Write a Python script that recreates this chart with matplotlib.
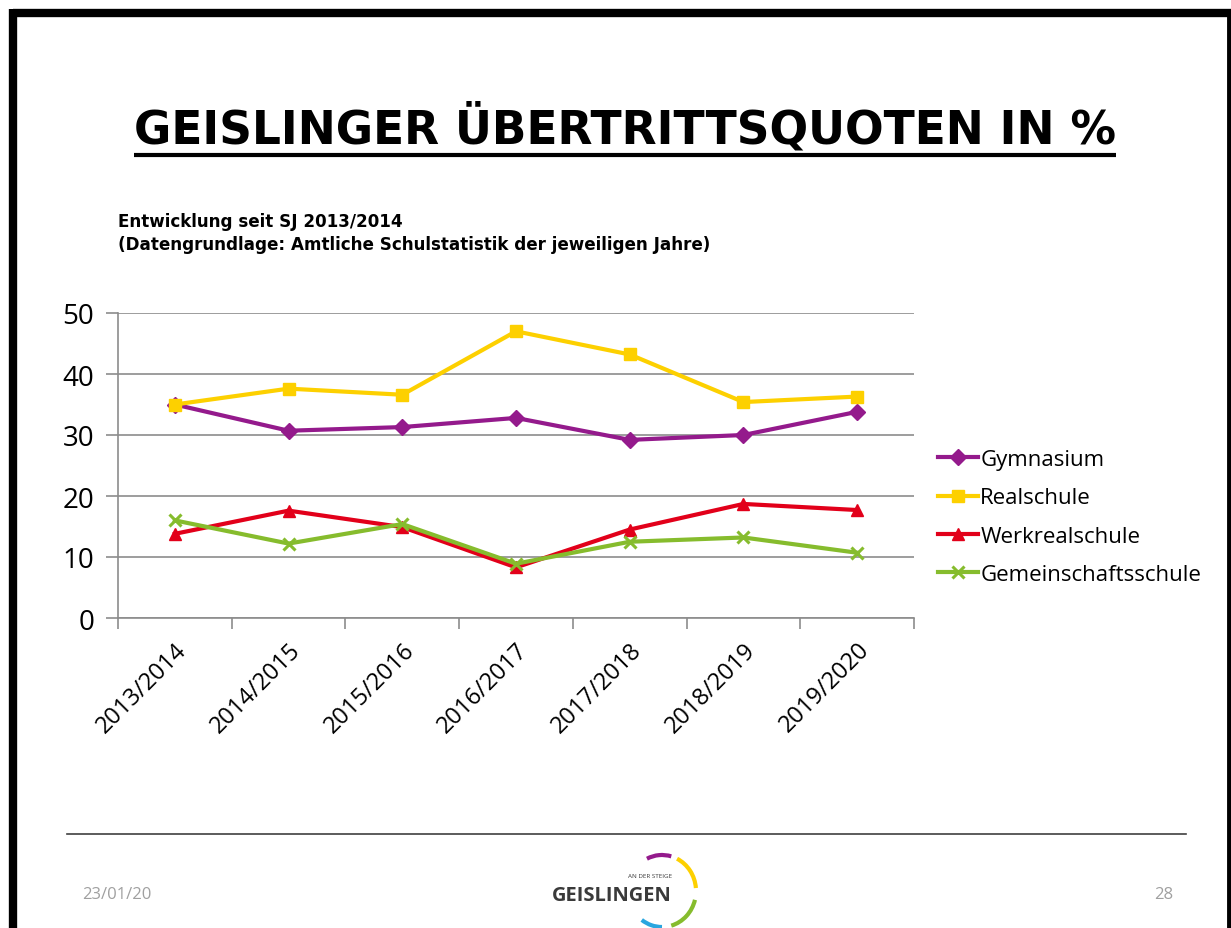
import matplotlib
matplotlib.use("Agg")
import matplotlib.pyplot as plt
from matplotlib.patches import Arc

# Daten
jahre = ["2013/2014", "2014/2015", "2015/2016", "2016/2017",
         "2017/2018", "2018/2019", "2019/2020"]
gymnasium = [35.0, 30.7, 31.3, 32.8, 29.2, 30.0, 33.8]
realschule = [35.0, 37.6, 36.6, 47.0, 43.2, 35.4, 36.3]
werkrealschule = [13.8, 17.6, 14.9, 8.3, 14.5, 18.7, 17.7]
gemeinschaftsschule = [16.0, 12.2, 15.4, 8.9, 12.5, 13.2, 10.7]

serien = [
    ("Gymnasium", gymnasium, "#941a8c", "D", 8),
    ("Realschule", realschule, "#fdd000", "s", 9),
    ("Werkrealschule", werkrealschule, "#e2001a", "^", 9),
    ("Gemeinschaftsschule", gemeinschaftsschule, "#86bc2d", "x", 8),
]

W, H = 1231, 929
fig = plt.figure(figsize=(W / 100, H / 100), dpi=100)

# Hintergrund / Folienrahmen in Pixelkoordinaten
deko = fig.add_axes([0, 0, 1, 1], zorder=0)
deko.set_xlim(0, W)
deko.set_ylim(H, 0)
deko.axis("off")
deko.plot([13, W], [13.5, 13.5], color="black", lw=6, solid_capstyle="butt")
deko.plot([13, 13], [10, H], color="black", lw=6, solid_capstyle="butt")
deko.plot([1229, 1229], [10, H], color="black", lw=3.5, solid_capstyle="butt")

# Fußzeile
deko.plot([67, 1186], [835, 835], color="#404040", lw=1.2)
deko.text(82, 895, "23/01/20", fontsize=12, color="#a0a0a0",
          family="Open Sans", va="center", ha="left")
deko.text(1173, 895, "28", fontsize=12, color="#a0a0a0",
          family="Open Sans", va="center", ha="right")
deko.text(612, 896, "GEISLINGEN", fontsize=14.5, fontweight="bold",
          color="#3a3a3a", family="Open Sans", va="center", ha="center")
deko.text(672, 877, "AN DER STEIGE", fontsize=4.5, color="#3a3a3a",
          family="Open Sans", va="center", ha="right")
for t1, t2, c in [(75, 115, "#941a8c"), (5, 65, "#fdd000"),
                  (-75, -15, "#86bc2d"), (-125, -90, "#2aa6df")]:
    deko.add_patch(Arc((662, 892), 68, 72, theta1=-t2, theta2=-t1,
                       color=c, lw=3))

# Titel
titel = fig.text(0.508, 1 - 129 / H, "GEISLINGER ÜBERTRITTSQUOTEN IN %",
                 fontsize=32.8, fontweight="bold", family="DejaVu Sans",
                 ha="center", va="center")
fig.text(118 / W, 1 - 222 / H, "Entwicklung seit SJ 2013/2014",
         fontsize=12.1, fontweight="bold", family="DejaVu Sans",
         ha="left", va="center")
fig.text(118 / W, 1 - 245 / H,
         "(Datengrundlage: Amtliche Schulstatistik der jeweiligen Jahre)",
         fontsize=12.1, fontweight="bold", family="DejaVu Sans",
         ha="left", va="center")

# Diagramm
ax = fig.add_axes([118 / W, 1 - 619 / H, 796 / W, 305 / H], zorder=1)
ax.set_facecolor("none")
x = list(range(len(jahre)))
for name, werte, farbe, marker, ms in serien:
    ax.plot(x, werte, color=farbe, lw=3, marker=marker, markersize=ms,
            markeredgewidth=2.2 if marker == "x" else 1, label=name)

ax.set_xlim(-0.5, len(jahre) - 0.5)
ax.set_ylim(0, 50)
ax.set_yticks([0, 10, 20, 30, 40, 50])
ax.yaxis.grid(True, color="#8c8c8c", lw=1.2)
ax.set_axisbelow(True)
ax.set_xticks(x)
ax.set_xticklabels(jahre, rotation=45, ha="right", rotation_mode="anchor",
                   fontsize=17, family="Open Sans")
ax.tick_params(axis="x", length=0, pad=14)
ax.set_xticks([i - 0.5 for i in range(len(jahre) + 1)], minor=True)
ax.tick_params(axis="x", which="minor", length=8, color="#8c8c8c", width=1.2)
ax.tick_params(axis="y", length=9, color="#8c8c8c", width=1.2,
               labelsize=20, pad=8)
for lab in ax.get_yticklabels():
    lab.set_family("Open Sans")
for s in ["top", "right"]:
    ax.spines[s].set_visible(False)
for s in ["left", "bottom"]:
    ax.spines[s].set_color("#8c8c8c")
    ax.spines[s].set_linewidth(1.2)

ax.legend(loc="center left", bbox_to_anchor=(938 / W, 1 - 518 / H),
          bbox_transform=fig.transFigure, frameon=False,
          prop={"family": "Open Sans", "size": 16}, handlelength=1.8,
          handletextpad=0.1, labelspacing=0.78, borderpad=0, borderaxespad=0)

# Unterstreichung des Titels
fig.canvas.draw()
bb = titel.get_window_extent()
deko.plot([bb.x0, bb.x1], [H - bb.y0 + 2, H - bb.y0 + 2], color="black",
          lw=3, solid_capstyle="butt")

fig.savefig("out.png", dpi=100)
